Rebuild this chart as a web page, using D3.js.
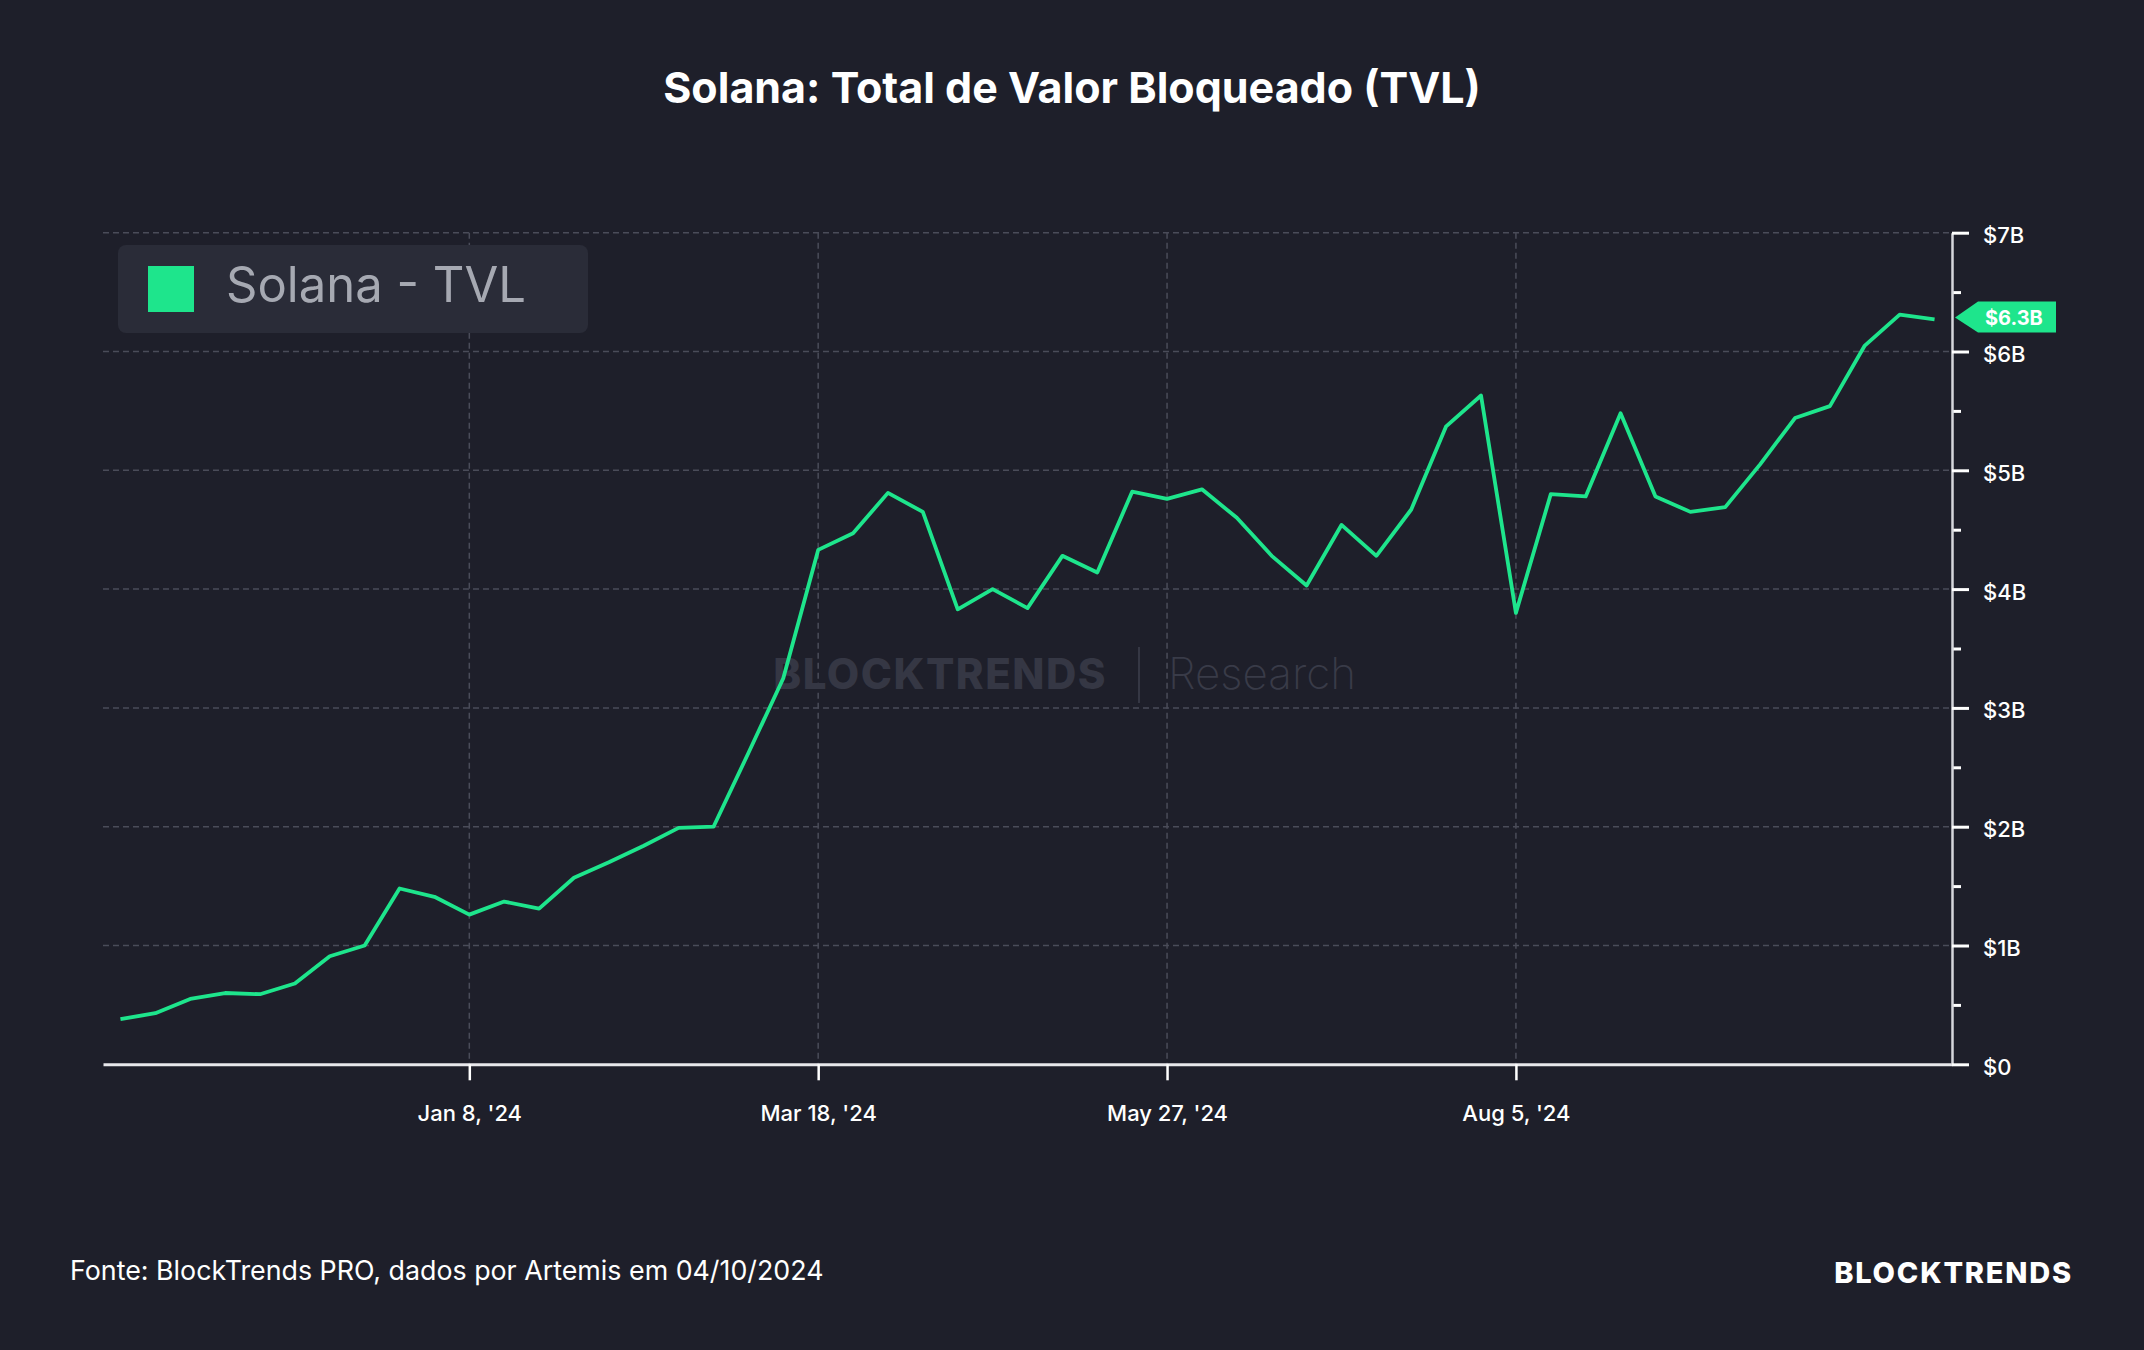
<!DOCTYPE html>
<html>
<head>
<meta charset="utf-8">
<script src="https://cdn.jsdelivr.net/npm/d3@7"></script>
<style>
  body { margin: 0; background: #1e1f2a; }
  svg { display: block; font-family: Inter, "Noto Sans", sans-serif; }
</style>
</head>
<body>
<div id="tvlchart"></div>
<script>
// weekly TVL, billions of USD
var dates = ["2023-10-30","2023-11-06","2023-11-13","2023-11-20","2023-11-27","2023-12-04","2023-12-11","2023-12-18","2023-12-25",
  "2024-01-01","2024-01-08","2024-01-15","2024-01-22","2024-01-29","2024-02-05","2024-02-12","2024-02-19","2024-02-26",
  "2024-03-04","2024-03-11","2024-03-18","2024-03-25","2024-04-01","2024-04-08","2024-04-15","2024-04-22","2024-04-29",
  "2024-05-06","2024-05-13","2024-05-20","2024-05-27","2024-06-03","2024-06-10","2024-06-17","2024-06-24","2024-07-01",
  "2024-07-08","2024-07-15","2024-07-22","2024-07-29","2024-08-05","2024-08-12","2024-08-19","2024-08-26","2024-09-02",
  "2024-09-09","2024-09-16","2024-09-23","2024-09-30","2024-10-07","2024-10-14","2024-10-21","2024-10-28"];
var tvl = [0.38,0.43,0.55,0.60,0.59,0.68,0.91,1.00,1.48,
  1.41,1.26,1.37,1.31,1.57,1.70,1.84,1.99,2.00,
  2.62,3.25,4.33,4.47,4.81,4.65,3.83,4.00,3.84,
  4.28,4.14,4.82,4.76,4.84,4.60,4.28,4.03,4.54,
  4.28,4.67,5.37,5.63,3.80,4.80,4.78,5.48,4.78,
  4.65,4.69,5.05,5.44,5.54,6.05,6.31,6.27];
var xTickDates = ["2024-01-08","2024-03-18","2024-05-27","2024-08-05"];
var yMajor = [0,1,2,3,4,5,6,7];
var yMinor = [0.5,1.5,2.5,3.5,4.5,5.5,6.5];
var seriesName = "Solana - TVL";
var titleText = "Solana: Total de Valor Bloqueado (TVL)";
var sourceText = "Fonte: BlockTrends PRO, dados por Artemis em 04/10/2024";

var width = 2144, height = 1350;
var plot = {left: 103, right: 1952, top: 232.7, bottom: 1064.3};
var green = "#1ee58c";
var gridColor = "#4a4c59";

var parse = d3.timeParse("%Y-%m-%d");
var data = dates.map(function(d, i) { return {date: parse(d), value: tvl[i]}; });

var x = d3.scaleTime()
  .domain([d3.timeHour.offset(data[0].date, -84), d3.timeHour.offset(data[data.length - 1].date, 84)])
  .range([plot.left, plot.right]);
var y = d3.scaleLinear().domain([0, 7]).range([plot.bottom, plot.top]);

var svg = d3.select("#tvlchart").append("svg")
  .attr("width", width)
  .attr("height", height);

svg.append("rect").attr("width", width).attr("height", height).attr("fill", "#1e1f2a");

// title
svg.append("text")
  .attr("x", width / 2).attr("y", 103)
  .attr("text-anchor", "middle")
  .attr("fill", "#ffffff")
  .attr("font-size", "43px")
  .attr("font-weight", 700)
  .text(titleText);

// grid
var grid = svg.append("g").attr("class", "grid");
grid.selectAll("line.h")
  .data(yMajor.filter(function(d) { return d > 0; }))
  .enter().append("line")
  .attr("class", "h")
  .attr("x1", plot.left).attr("x2", plot.right)
  .attr("y1", function(d) { return y(d); }).attr("y2", function(d) { return y(d); })
  .attr("stroke", gridColor).attr("stroke-width", 1.5).attr("stroke-dasharray", "6,4");
grid.selectAll("line.v")
  .data(xTickDates)
  .enter().append("line")
  .attr("class", "v")
  .attr("x1", function(d) { return x(parse(d)); }).attr("x2", function(d) { return x(parse(d)); })
  .attr("y1", plot.top).attr("y2", plot.bottom)
  .attr("stroke", gridColor).attr("stroke-width", 1.5).attr("stroke-dasharray", "6,4");

// watermark
var wm = svg.append("g").attr("class", "watermark");
wm.append("text")
  .attr("x", 1107).attr("y", 689)
  .attr("text-anchor", "end")
  .attr("fill", "#353744")
  .attr("font-size", "42px")
  .attr("font-weight", 800)
  .attr("letter-spacing", "1.5px")
  .text("BLOCKTRENDS");
wm.append("line")
  .attr("x1", 1139).attr("x2", 1139).attr("y1", 647).attr("y2", 703)
  .attr("stroke", "#353744").attr("stroke-width", 2);
wm.append("text")
  .attr("x", 1168).attr("y", 689)
  .attr("fill", "#393b48")
  .attr("font-size", "44px")
  .attr("font-weight", 200)
  .text("Research");

// legend
var legend = svg.append("g").attr("class", "legend");
legend.append("rect")
  .attr("x", 118).attr("y", 245).attr("width", 470).attr("height", 88)
  .attr("rx", 8)
  .attr("fill", "#2a2c38");
legend.append("rect")
  .attr("x", 148).attr("y", 266).attr("width", 46).attr("height", 46)
  .attr("fill", green);
legend.append("text")
  .attr("x", 226).attr("y", 302)
  .attr("fill", "#a6a9b2")
  .attr("font-size", "49px")
  .text(seriesName);

// x axis
var xAxis = d3.axisBottom(x)
  .tickValues(xTickDates.map(parse))
  .tickFormat(d3.timeFormat("%b %-d, '%y"))
  .tickSize(16)
  .tickSizeOuter(0);
var gx = svg.append("g")
  .attr("transform", "translate(0," + plot.bottom + ")")
  .call(xAxis);
gx.select(".domain").attr("stroke", "#e8e8ec").attr("stroke-width", 3);
gx.selectAll(".tick line").attr("stroke", "#ffffff").attr("stroke-width", 2.5);
gx.selectAll(".tick text")
  .attr("y", 41)
  .attr("dy", "0.71em")
  .attr("fill", "#ffffff")
  .attr("font-size", "22px")
  .attr("font-weight", 500)
  .attr("font-family", "Inter, sans-serif");

// y axis (right)
var gyMinor = svg.append("g")
  .attr("transform", "translate(" + plot.right + ",0)")
  .call(d3.axisRight(y).tickValues(yMinor).tickSize(9).tickFormat(""));
gyMinor.select(".domain").remove();
gyMinor.selectAll(".tick line").attr("stroke", "#ffffff").attr("stroke-width", 3);

var yAxis = d3.axisRight(y)
  .tickValues(yMajor)
  .tickSize(17)
  .tickSizeOuter(0)
  .tickFormat(function(d) { return d === 0 ? "$0" : "$" + d + "B"; });
var gy = svg.append("g")
  .attr("transform", "translate(" + plot.right + ",0)")
  .call(yAxis);
gy.select(".domain").attr("stroke", "#d6d7dc").attr("stroke-width", 2.5);
gy.selectAll(".tick line").attr("stroke", "#ffffff").attr("stroke-width", 3);
gy.selectAll(".tick text")
  .attr("x", 31)
  .attr("y", 3)
  .attr("fill", "#ffffff")
  .attr("font-size", "22px")
  .attr("font-weight", 500)
  .attr("font-family", "Inter, sans-serif");

// series
var line = d3.line()
  .x(function(d) { return x(d.date); })
  .y(function(d) { return y(d.value); });
svg.append("path")
  .datum(data)
  .attr("fill", "none")
  .attr("stroke", green)
  .attr("stroke-width", 3.8)
  .attr("stroke-linejoin", "round")
  .attr("d", line);

// last value flag
var last = data[data.length - 1];
var ly = y(last.value) - 2;
var flag = svg.append("g").attr("transform", "translate(" + (plot.right + 3) + "," + ly + ")");
flag.append("path")
  .attr("d", "M0,0 L23,-16 L101,-16 L101,15 L23,15 Z")
  .attr("fill", green);
flag.append("text")
  .attr("x", 30).attr("y", 0)
  .attr("dy", "0.36em")
  .attr("fill", "#ffffff")
  .attr("font-size", "20px")
  .attr("font-weight", 700)
  .text(d3.format("$.1f")(last.value) + "B");

// footer
svg.append("text")
  .attr("x", 70).attr("y", 1280)
  .attr("fill", "#ffffff")
  .attr("font-size", "26.8px")
  .text(sourceText);
svg.append("text")
  .attr("x", 2073).attr("y", 1283)
  .attr("text-anchor", "end")
  .attr("fill", "#ffffff")
  .attr("font-size", "29px")
  .attr("font-weight", 800)
  .attr("letter-spacing", "1.8px")
  .text("BLOCKTRENDS");
</script>
</body>
</html>
